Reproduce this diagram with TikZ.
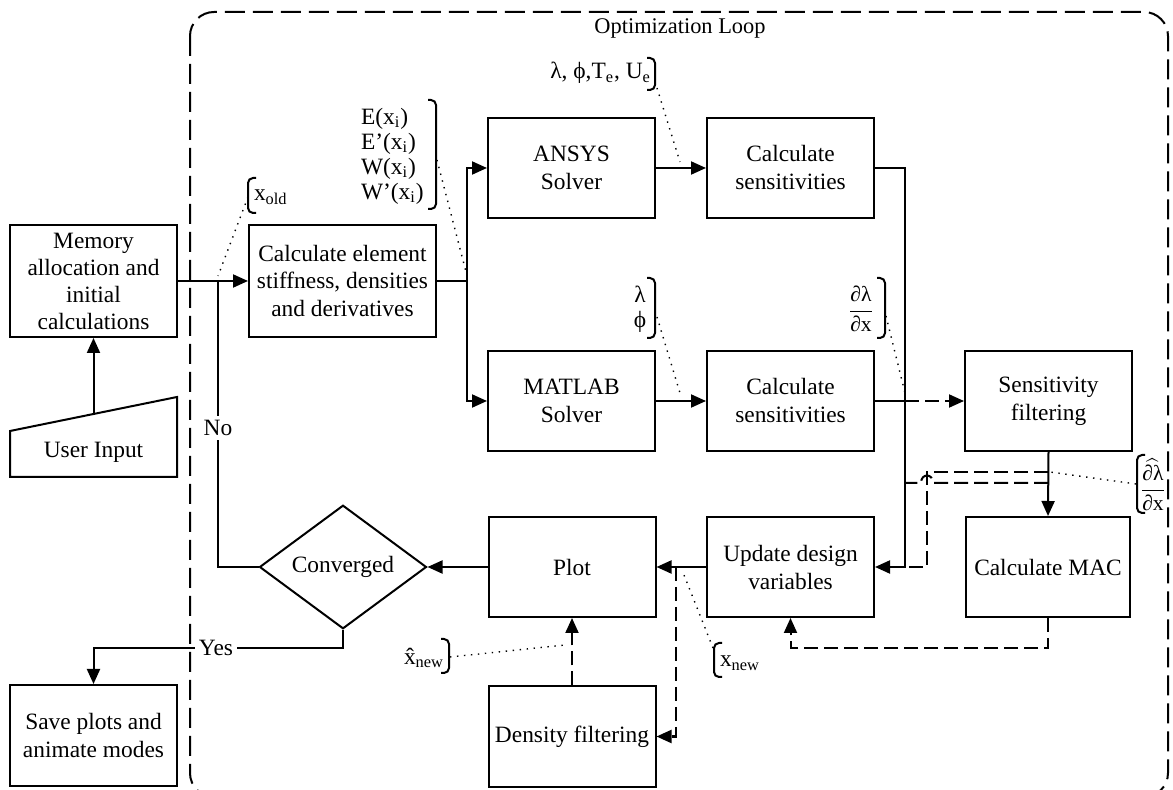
\documentclass[tikz,border=0pt]{standalone}
\usepackage{fontspec}
\setmainfont{Liberation Serif}
\usepackage{amsmath}
\usetikzlibrary{arrows.meta,shapes.geometric}
\begin{document}
\begin{tikzpicture}[x=0.5pt,y=-0.5pt, line width=1pt,
  font=\fontsize{11.7pt}{14pt}\selectfont,
  box/.style={draw, minimum width=83.5pt, minimum height=50pt, align=center, inner sep=1pt},
  arr/.style={-{Triangle[length=7.5pt,width=6.5pt]}},
  dsh/.style={dash pattern=on 7pt off 3pt},
  dot/.style={line width=0.7pt, dash pattern=on 0.7pt off 2.8pt},
  brk/.style={line width=1pt, rounded corners=2.5pt},
  lbl/.style={inner sep=0pt, align=center},
  yn/.style={fill=white, inner sep=2pt}]
\useasboundingbox (0,0) rectangle (1173,790);
% optimization loop boundary (its bottom edge lies below the picture)
\begin{scope}
\clip (0,0) rectangle (1173,790);
\draw[dash pattern=on 10pt off 4pt, rounded corners=12pt] (190,12) rectangle (1168,797);
\end{scope}
\node[lbl, font=\fontsize{11.2pt}{14pt}\selectfont] (title) at (680,28) {Optimization Loop};
% boxes
\node[box, minimum height=56pt, font=\fontsize{11.7pt}{13.5pt}\selectfont] (mem) at (93.5,281) {Memory\\allocation and\\initial\\calculations};
\node[box, minimum width=93.5pt, minimum height=56pt] (calc) at (342.5,281) {Calculate element\\stiffness, densities\\and derivatives};
\node[box] (ansys) at (571.5,168) {ANSYS\\Solver};
\node[box] (sens1) at (790.5,168) {Calculate\\sensitivities};
\node[box] (matlab) at (571.5,401) {MATLAB\\Solver};
\node[box] (sens2) at (790.5,401) {Calculate\\sensitivities};
\node[box] (sfilt) at (1048.5,401) {Sensitivity\\filtering};
\node[box, minimum width=82pt] (mac) at (1048,567) {Calculate MAC};
\node[box] (update) at (790.5,567) {Update design\\variables};
\node[box] (plot) at (572,567) {Plot};
\node[box] (dens) at (572,736.5) {Density filtering};
\node[box, minimum height=50.5pt] (save) at (93.5,735.5) {Save plots and\\animate modes};
\node[draw, diamond, minimum width=83.5pt, minimum height=50pt, inner sep=0pt] (conv) at (343,567) {Converged};
% user input (manual input shape)
\draw (10,431) -- (177,397) -- (177,477) -- (10,477) -- cycle;
\node[lbl] (user) at (93.5,452) {User Input};
\coordinate (usertop) at (93.5,414);
% connectors
\draw[arr] (usertop) -- (mem.south);
\draw[arr] (mem.east) -- (calc.west);
\coordinate (noj) at (218,281);
\draw (conv.west) -| (noj);
\node[yn] (no) at (218,428) {No};
\coordinate (split) at (467,281);
\draw (calc.east) -- (split);
\draw[arr] (split) |- (ansys.west);
\draw[arr] (split) |- (matlab.west);
\draw[arr] (ansys.east) -- (sens1.west);
\draw[arr] (matlab.east) -- (sens2.west);
\coordinate (rt) at (905,168);
\draw[arr] (sens1.east) -- (rt) |- (update.east);
\coordinate (j2) at (905,401);
\draw (sens2.east) -- (j2);
\draw[dsh,arr] (j2) -- (sfilt.west);
\draw[arr] (sfilt.south) -- (mac.north);
\coordinate (f1) at (1048,472);
\coordinate (f1b) at (927,472);
\coordinate (f1c) at (927,567);
\coordinate (f1d) at (905,567);
\draw[dsh] (f1) -- (f1b) -- (f1c) -- (f1d);
\coordinate (f2) at (1048,483);
\coordinate (f2e) at (905,483);
\draw[dsh] (f2) -- (933,483) .. controls (933,473) and (921,473) .. (921,483) -- (f2e);
\coordinate (macb) at (1048,648);
\draw[dsh,arr] (mac.south) -- (macb) -| (update.south);
\draw[arr] (update.west) -- (plot.east);
\coordinate (dj) at (676,567);
\draw[dsh,arr] (dj) |- (dens.east);
\draw[dsh,arr] (dens.north) -- (plot.south);
\draw[arr] (plot.west) -- (conv.east);
\coordinate (yc) at (93.5,648);
\draw[arr] (conv.south) |- (yc) -- (save.north);
\node[yn] (yes) at (216,648) {Yes};
% annotations
% x_old
\draw[brk] (256,178) -- (248,178) -- (248,213) -- (256,213);
\node[lbl, anchor=west] (xold) at (253,197) {x\textsubscript{old}};
\draw[dot] (248,197) -- (218,276);
% E list
\draw[brk] (428,100) -- (436,100) -- (436,209) -- (428,209);
\node[lbl, anchor=west, align=left, font=\fontsize{11.7pt}{12.5pt}\selectfont] (elist) at (360,156) {E(x\textsubscript{i})\\E’(x\textsubscript{i})\\W(x\textsubscript{i})\\W’(x\textsubscript{i})};
\draw[dot] (437,160) -- (466,272);
% lambda phi T U
\draw[brk] (647,58) -- (655,58) -- (655,90) -- (647,90);
\node[lbl, anchor=east] (lpt) at (652,73) {λ, ϕ,T\textsubscript{e}, U\textsubscript{e}};
\draw[dot] (657,88) -- (680,162);
% lambda phi
\draw[brk] (647,278) -- (655,278) -- (655,338) -- (647,338);
\node[lbl, font=\fontsize{11.7pt}{12.5pt}\selectfont] (lp) at (640,309) {λ\\ϕ};
\draw[dot] (657,317) -- (680,393);
% dlambda/dx
\draw[brk] (877,278) -- (885,278) -- (885,338) -- (877,338);
\node[lbl, font=\fontsize{10.8pt}{13pt}\selectfont] (dldx) at (861,309) {$\dfrac{\text{∂λ}}{\text{∂x}}$};
\draw[dot] (886,316) -- (905,393);
% filtered dlambda/dx
\draw[brk] (1145,455) -- (1137,455) -- (1137,513) -- (1145,513);
\node[lbl, font=\fontsize{10.8pt}{13pt}\selectfont] (dldxf) at (1153,485) {$\dfrac{\widehat{\text{∂λ}}}{\text{∂x}}$};
\draw[dot] (1136,484) -- (1050,472);
% x_new hat
\draw[brk] (441,639) -- (449,639) -- (449,673) -- (441,673);
\node[lbl, anchor=east] (xnh) at (445,658) {\^{x}\textsubscript{new}};
\draw[dot] (450,657) -- (565,645);
% x_new
\draw[brk] (722,643) -- (714,643) -- (714,677) -- (722,677);
\node[lbl, anchor=west] (xn) at (719,663) {x\textsubscript{new}};
\draw[dot] (713,648) -- (682,570);
\end{tikzpicture}
\end{document}
